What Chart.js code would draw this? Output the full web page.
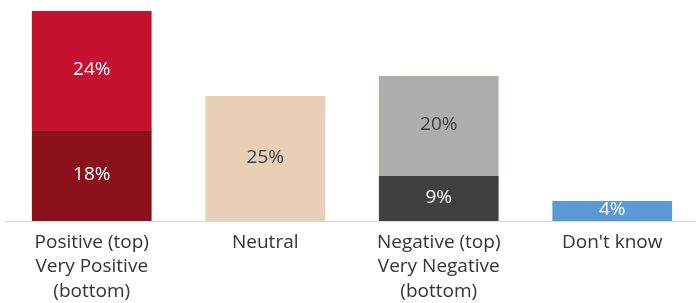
<!DOCTYPE html>
<html>
<head>
<meta charset="utf-8">
<script src="https://cdn.jsdelivr.net/npm/chart.js@4"></script>
<style>
  html,body{margin:0;padding:0;background:#fff;overflow:hidden}
  #wrap{width:696px;height:303px;overflow:hidden}
  canvas{display:block}
</style>
</head>
<body>
<div id="wrap"><canvas id="chart" width="700" height="303"></canvas></div>
<script>
// categories and values
const categories = [
  ['Positive (top)','Very Positive','(bottom)'],
  ['Neutral'],
  ['Negative (top)','Very Negative','(bottom)'],
  ["Don't know"]
];
const bottomValues = [18, 25, 9, 4];
const topValues = [24, null, 20, null];

const bottomColors = ['#8c111c','#e8cfb5','#404040','#5b9bd5'];
const topColors = ['#c41230','#e8cfb5','#b1adab','#5b9bd5'];
const bottomLabelColors = ['#ffffff','#404040','#ffffff','#ffffff'];
const topLabelColors = ['#ffffff','#404040','#404040','#ffffff'];

const FONT = '"Open Sans", "Noto Sans", sans-serif';

// draw the percentage inside each bar segment
const valueLabels = {
  id:'valueLabels',
  afterDatasetsDraw(chart){
    const ctx = chart.ctx;
    ctx.save();
    ctx.font = '19px ' + FONT;
    ctx.textAlign = 'center';
    ctx.textBaseline = 'middle';
    chart.data.datasets.forEach((ds, di)=>{
      const meta = chart.getDatasetMeta(di);
      meta.data.forEach((bar, i)=>{
        const v = ds.data[i];
        if(v==null) return;
        const p = bar.getProps(['x','y','base'], true);
        ctx.fillStyle = ds.labelColors[i];
        ctx.fillText(v + '%', p.x, (p.y + p.base)/2 - 1);
      });
    });
    ctx.restore();
  }
};

new Chart(document.getElementById('chart').getContext('2d'),{
  type:'bar',
  data:{
    labels:categories,
    datasets:[
      {label:'bottom',data:bottomValues,backgroundColor:bottomColors,labelColors:bottomLabelColors,stack:'s'},
      {label:'top',data:topValues,backgroundColor:topColors,labelColors:topLabelColors,stack:'s'}
    ]
  },
  options:{
    responsive:false,
    animation:false,
    layout:{padding:{left:5,right:1,top:1,bottom:0}},
    plugins:{legend:{display:false},tooltip:{enabled:false}},
    datasets:{bar:{categoryPercentage:1,barPercentage:0.69}},
    scales:{
      x:{
        stacked:true,
        grid:{display:false},
        border:{display:true,color:'#d9d9d9',width:1},
        ticks:{color:'#333333',font:{family:FONT,size:19,lineHeight:1.29},padding:1,maxRotation:0,autoSkip:false},
        afterFit(scale){ scale.height = 82; }
      },
      y:{
        stacked:true,
        display:false,
        min:0,
        max:44
      }
    }
  },
  plugins:[valueLabels]
});
</script>
</body>
</html>
